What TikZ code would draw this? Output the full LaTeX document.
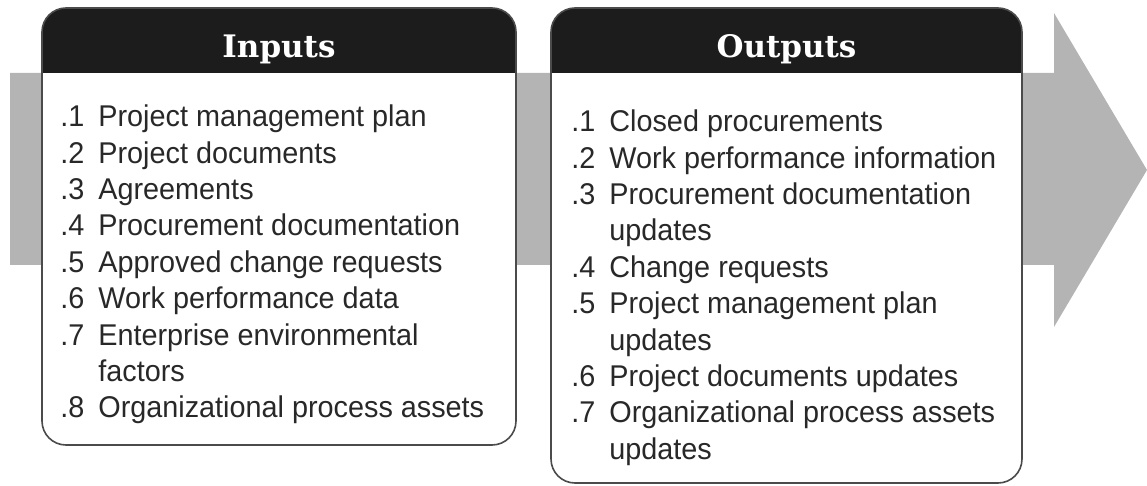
\documentclass[tikz,border=0pt]{standalone}
\usepackage{fontspec}
\setmainfont{Liberation Sans}[FakeStretch=0.96]
\newfontfamily\slabfont{DejaVu Serif}
\usetikzlibrary{calc}
\definecolor{FlowGray}{RGB}{180,180,180}
\definecolor{HeadBlack}{RGB}{28,28,28}
\definecolor{FrameGray}{RGB}{75,75,75}
\definecolor{InkGray}{RGB}{40,40,40}
\newcommand{\itm}[2]{\makebox[19pt][l]{#1}#2}
\newcommand{\cont}[1]{\hspace*{19pt}#1}
\tikzset{
	panel/.style={draw=FrameGray,fill=white,line width=0.8pt,rounded corners=12pt},
	frame/.style={draw=FrameGray,line width=0.8pt,rounded corners=12pt},
	header/.style={fill=HeadBlack},
	flow/.style={fill=FlowGray},
	headtitle/.style={text=white,font=\slabfont\bfseries\fontsize{15.5}{18}\selectfont,anchor=base,inner sep=0pt},
	itemlist/.style={text=InkGray,font=\fontsize{15}{18.2}\selectfont,align=left,anchor=north west,inner sep=0pt},
}

\begin{document}
\begin{tikzpicture}[x=0.5pt,y=-0.5pt]
	\useasboundingbox (0,0) rectangle (1147,486);
	\coordinate (inTL) at (42,8);
	\coordinate (inBR) at (516,445);
	\coordinate (outTL) at (551,8);
	\coordinate (outBR) at (1022,483);
	% gray process arrow behind the two panels
	\fill[flow] (10,73) -- (1054,73) -- (1054,13) -- (1147,170) -- (1054,327) -- (1054,265) -- (10,265) -- cycle;
	% inputs panel
	\fill[white,rounded corners=12pt] (inTL) rectangle (inBR);
	\fill[header] (42,73) [rounded corners=12pt] -- (inTL) -- (516,8) [sharp corners] -- (516,73) -- cycle;
	\draw[frame] (inTL) rectangle (inBR);
	% outputs panel
	\fill[white,rounded corners=12pt] (outTL) rectangle (outBR);
	\fill[header] (551,73) [rounded corners=12pt] -- (outTL) -- (1022,8) [sharp corners] -- (1022,73) -- cycle;
	\draw[frame] (outTL) rectangle (outBR);
	\node[headtitle] (intitle) at ($(inTL)!0.5!(516,8)+(0,50)$) {Inputs};
	\node[headtitle] (outtitle) at ($(outTL)!0.5!(1022,8)+(0,50)$) {Outputs};
	\node[itemlist] (inlist) at (60,104.5) {%
		\itm{.1}{Project management plan}\\
		\itm{.2}{Project documents}\\
		\itm{.3}{Agreements}\\
		\itm{.4}{Procurement documentation}\\
		\itm{.5}{Approved change requests}\\
		\itm{.6}{Work performance data}\\
		\itm{.7}{Enterprise environmental}\\
		\cont{factors}\\
		\itm{.8}{Organizational process assets}};
	\node[itemlist] (outlist) at (571,109.5) {%
		\itm{.1}{Closed procurements}\\
		\itm{.2}{Work performance information}\\
		\itm{.3}{Procurement documentation}\\
		\cont{updates}\\
		\itm{.4}{Change requests}\\
		\itm{.5}{Project management plan}\\
		\cont{updates}\\
		\itm{.6}{Project documents updates}\\
		\itm{.7}{Organizational process assets}\\
		\cont{updates}};
\end{tikzpicture}
\end{document}
